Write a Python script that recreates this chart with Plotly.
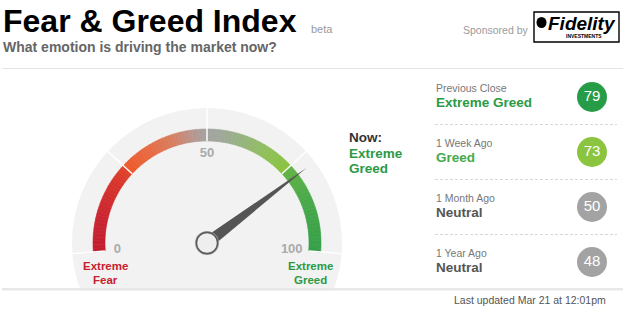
import math
import plotly.graph_objects as go
from plotly.colors import sample_colorscale

# ---------------- data ----------------
gauge_value = 78
gauge_rating = "Extreme Greed"
scale_ticks = [0, 50, 100]
zone_edges = [0, 25, 50, 75, 100]
scale_end_labels = ["Extreme Fear", "Extreme Greed"]
history_labels = ["Previous Close", "1 Week Ago", "1 Month Ago", "1 Year Ago"]
history_values = [79, 73, 50, 48]
history_ratings = ["Extreme Greed", "Greed", "Neutral", "Neutral"]
last_updated = "Last updated Mar 21 at 12:01pm"

# ---------------- style / geometry ----------------
W, H = 623, 311
CX, CY = 207, 243          # gauge centre (px)
R_BG = 136                 # polar radius (px)  -> 1 radial unit = 1 px
R_IN, R_OUT = 102, 114     # coloured track
SPAN = 189                 # degrees covered by the 0..100 scale
ROT = 184.5                # screen angle of value 0
FONT = "Liberation Sans, Arial, sans-serif"

rating_text_color = {"Extreme Greed": "#2b9a45", "Greed": "#45aa4b", "Neutral": "#555555",
                     "Extreme Fear": "#c8202f"}
rating_circle_color = {"Extreme Greed": "#279c47", "Greed": "#8bc43f", "Neutral": "#a3a3a3"}


def th(v):
    return v * SPAN / 100.0


arc_scale = [[0.0, "#c21e30"], [0.10, "#cb2530"], [0.20, "#d8352c"], [0.245, "#e0422b"],
             [0.255, "#ee5a2b"], [0.33, "#e86b44"], [0.40, "#d97e60"], [0.46, "#b89690"],
             [0.50, "#a3a3a3"], [0.54, "#a0a89b"], [0.60, "#97b47f"], [0.68, "#8fc05a"],
             [0.745, "#8ac43f"], [0.755, "#62b346"], [0.85, "#4aa94a"], [1.0, "#35a049"]]

fig = go.Figure()

# coloured gauge track (decoration along the 0..100 scale)
lo, hi = zone_edges[0], zone_edges[-1]
seg_mid = [lo + i + 0.5 for i in range(hi - lo)]
seg_cols = sample_colorscale(arc_scale, [(m - lo) / (hi - lo) for m in seg_mid])
fig.add_trace(go.Barpolar(
    r=[R_OUT - R_IN] * len(seg_mid), base=[R_IN] * len(seg_mid),
    theta=[th(m) for m in seg_mid], width=[SPAN / 100.0] * len(seg_mid),
    marker=dict(color=seg_cols, line=dict(color=seg_cols, width=0.6)),
    hoverinfo="skip", subplot="polar"))

# white zone separators
tr, tt = [], []
for z in zone_edges:
    tr += [R_IN, R_BG, None]
    tt += [th(z), th(z), None]
fig.add_trace(go.Scatterpolar(r=tr, theta=tt, mode="lines",
                              line=dict(color="white", width=1.5),
                              hoverinfo="skip", subplot="polar"))

# scale numbers
fig.add_trace(go.Scatterpolar(
    r=[90, 89, 85], theta=[th(v) for v in scale_ticks],
    text=[str(v) for v in scale_ticks], mode="text",
    textfont=dict(family=FONT, size=13, color="#aaaaaa", weight="bold"),
    hoverinfo="skip", subplot="polar", cliponaxis=False))

# needle
t = th(gauge_value)
fig.add_trace(go.Scatterpolar(
    r=[6, 125, 6, 6], theta=[t + 90, t, t - 90, t + 90], mode="lines",
    fill="toself", fillcolor="#555555", line=dict(width=0, color="#555555"),
    hoverinfo="skip", subplot="polar", cliponaxis=False))

# pivot (shadow + knob)
fig.add_trace(go.Scatterpolar(
    r=[0], theta=[0], mode="markers",
    marker=dict(size=24, color="#9a9a9a", line=dict(width=0)),
    hoverinfo="skip", subplot="polar", cliponaxis=False))
fig.add_trace(go.Scatterpolar(
    r=[0], theta=[0], mode="markers",
    marker=dict(size=21, color="#eeeeee", line=dict(color="#5a5a5a", width=1.4)),
    hoverinfo="skip", subplot="polar", cliponaxis=False))

# current value bubble
fig.add_trace(go.Scatterpolar(
    r=[144], theta=[t], mode="markers+text", text=[str(gauge_value)],
    textposition="middle center",
    marker=dict(size=32, color=rating_circle_color[gauge_rating], line=dict(width=0)),
    textfont=dict(family=FONT, size=16, color="white"),
    hoverinfo="skip", subplot="polar", cliponaxis=False))

# history bubbles (cartesian pixel frame)
row_y = [97 + 55 * i for i in range(len(history_values))]
fig.add_trace(go.Scatter(
    x=[592] * len(history_values), y=row_y, mode="markers+text",
    text=[str(v) for v in history_values], textposition="middle center",
    marker=dict(size=30, color=[rating_circle_color[r] for r in history_ratings], line=dict(width=0)),
    textfont=dict(family=FONT, size=15, color="white"),
    hoverinfo="skip", xaxis="x", yaxis="y"))

# ---------------- shapes ----------------
shapes = [
    dict(type="circle", xref="x", yref="y", x0=CX - 135, x1=CX + 135, y0=CY - 135, y1=CY + 135,
         fillcolor="#f2f2f2", line=dict(width=0), layer="below"),
    dict(type="rect", xref="x", yref="y", x0=0, x1=W, y0=290.5, y1=H,
         fillcolor="white", line=dict(width=0), layer="below"),
    dict(type="rect", xref="x", yref="y", x0=2, x1=W, y0=288, y1=290.5,
         fillcolor="#e8e8e8", line=dict(width=0), layer="below"),
    dict(type="line", xref="x", yref="y", x0=2, x1=W, y0=68.5, y1=68.5,
         line=dict(color="#e4e4e4", width=1), layer="below"),
    dict(type="rect", xref="x", yref="y", x0=534, x1=619, y0=12, y1=42,
         fillcolor="white", line=dict(color="black", width=1.4), layer="below"),
    dict(type="circle", xref="x", yref="y", x0=536.5, x1=546.5, y0=17, y1=28,
         fillcolor="black", line=dict(width=0), layer="below"),
]
for i in range(len(history_values) - 1):
    yy = 124.5 + 55 * i
    shapes.append(dict(type="line", xref="x", yref="y", x0=435, x1=617, y0=yy, y1=yy,
                       line=dict(color="#d8d8d8", width=1, dash="3px,2px"), layer="below"))

# ---------------- annotations ----------------
anns = []


def ann(x, y, text, size, color, xanchor="left"):
    anns.append(dict(x=x, y=y, xref="x", yref="y", text=text, showarrow=False,
                     xanchor=xanchor, yanchor="middle",
                     font=dict(family=FONT, size=size, color=color)))


ann(1, 21, "<b>Fear & Greed Index</b>", 32, "#000000")
ann(309, 29, "beta", 11, "#999999")
ann(1, 47, "<b>What emotion is driving the market now?</b>", 14, "#666666")
ann(461, 30, "Sponsored by", 10.5, "#9a9a9a")
ann(582, 23, "<b><i>Fidelity</i></b>", 19, "#000000", "center")
ann(584, 35.5, "<b>INVESTMENTS</b>", 5, "#000000", "center")

# now label
ann(347, 137, "<b>Now:</b>", 13.5, "#333333")
for k, word in enumerate(gauge_rating.split(" ")):
    ann(347, 153 + 15 * k, "<b>%s</b>" % word, 13.5, rating_text_color[gauge_rating])

# scale end labels
for lab, xc in zip(scale_end_labels, [105, 310]):
    for k, word in enumerate(lab.split(" ")):
        ann(xc, 266 + 13.5 * k, "<b>%s</b>" % word, 11.5, rating_text_color[lab], "center")

# history rows
for i, (lab, rating) in enumerate(zip(history_labels, history_ratings)):
    ann(434, 88 + 55 * i, lab, 10.5, "#777777")
    ann(434, 102.5 + 55 * i, "<b>%s</b>" % rating, 13.5, rating_text_color[rating])

ann(608, 300, last_updated, 10.5, "#555555", "right")

# ---------------- layout ----------------
ybot = CY + R_BG * math.sin(math.radians(5))
fig.update_layout(
    width=W, height=H, margin=dict(l=0, r=0, t=0, b=0, pad=0),
    paper_bgcolor="white", plot_bgcolor="white", showlegend=False,
    xaxis=dict(range=[0, W], visible=False, fixedrange=True, domain=[0, 1]),
    yaxis=dict(range=[H, 0], visible=False, fixedrange=True, domain=[0, 1]),
    polar=dict(
        domain=dict(x=[(CX - R_BG) / W, (CX + R_BG) / W], y=[1 - ybot / H, 1 - (CY - R_BG) / H]),
        sector=[-5, 185], hole=0, bgcolor="rgba(0,0,0,0)", bargap=0,
        radialaxis=dict(range=[0, R_BG], visible=False, showgrid=False),
        angularaxis=dict(rotation=ROT, direction="clockwise", visible=False, showgrid=False),
    ),
    shapes=shapes, annotations=anns,
)

fig.write_html("out.html", config={"displayModeBar": False})
